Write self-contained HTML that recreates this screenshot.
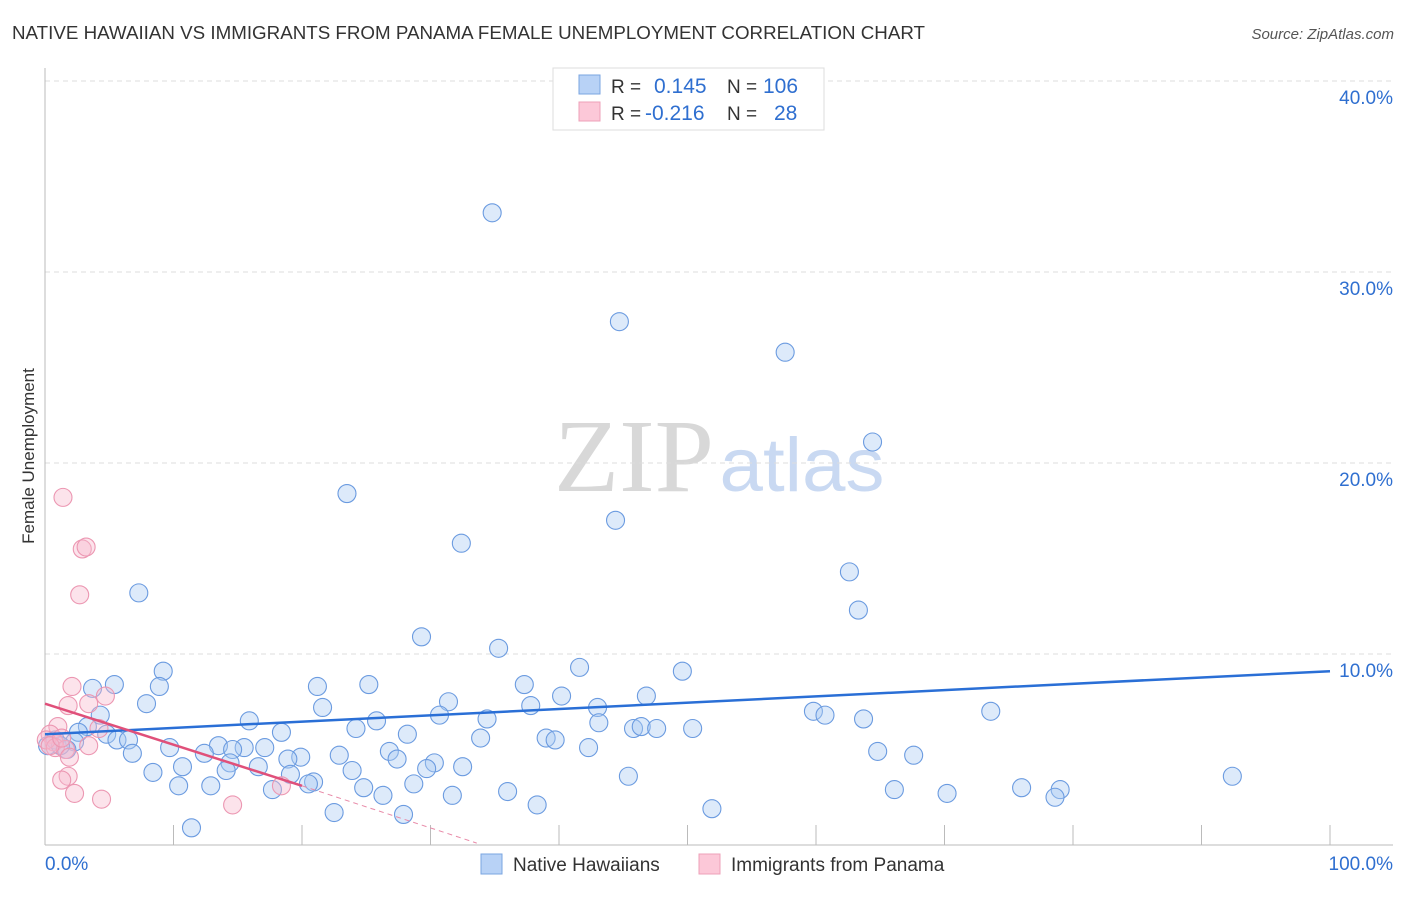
<!DOCTYPE html>
<html><head><meta charset="utf-8"><style>
body{margin:0;background:#fff;font-family:"Liberation Sans",sans-serif}
</style></head><body>
<svg width="1406" height="892" xmlns="http://www.w3.org/2000/svg" style="font-family:'Liberation Sans',sans-serif">
<text x="12" y="39" font-size="18" fill="#333" textLength="913" lengthAdjust="spacingAndGlyphs">NATIVE HAWAIIAN VS IMMIGRANTS FROM PANAMA FEMALE UNEMPLOYMENT CORRELATION CHART</text>
<text x="1394" y="39" font-size="15" fill="#555" text-anchor="end" font-style="italic">Source: ZipAtlas.com</text>
<text x="0" y="0" transform="translate(34,456) rotate(-90)" font-size="17" fill="#333" text-anchor="middle">Female Unemployment</text>
<g><text x="634" y="491" font-size="104" font-family="Liberation Serif" fill="#d8d8d8" text-anchor="middle" textLength="160" lengthAdjust="spacingAndGlyphs">ZIP</text><text x="802" y="491" font-size="76" fill="#c9d9f2" text-anchor="middle" textLength="165" lengthAdjust="spacingAndGlyphs">atlas</text></g>
<g id="grid"></g>
<g id="axes"></g>
<g id="pts"></g>
<g id="trend"></g>
<g>
<rect x="553" y="68" width="271" height="62" fill="#fff" stroke="#ddd"/>
<rect x="579" y="75" width="21" height="19" fill="#b8d2f6" stroke="#7aa5e0"/>
<rect x="579" y="102" width="21" height="19" fill="#fcc8d8" stroke="#eea0b8"/>
<text x="611" y="93" font-size="19" fill="#333">R =</text><text x="654" y="93" font-size="21" fill="#2f6fd0">0.145</text>
<text x="727" y="93" font-size="19" fill="#333">N =</text><text x="763" y="93" font-size="21" fill="#2f6fd0">106</text>
<text x="611" y="120" font-size="19" fill="#333">R =</text><text x="645" y="120" font-size="21" fill="#2f6fd0">-0.216</text>
<text x="727" y="120" font-size="19" fill="#333">N =</text><text x="774" y="120" font-size="21" fill="#2f6fd0">28</text>
</g>
<g>
<rect x="481" y="854" width="21" height="20" fill="#b8d2f6" stroke="#7aa5e0"/>
<text x="513" y="871" font-size="19" fill="#333">Native Hawaiians</text>
<rect x="699" y="854" width="21" height="20" fill="#fcc8d8" stroke="#eea0b8"/>
<text x="731" y="871" font-size="19" fill="#333">Immigrants from Panama</text>
</g>
</svg>
<script>
const yTicks=[10,20,30,40];
const yTickLabels=["10.0%","20.0%","30.0%","40.0%"];
const xTickLabels=["0.0%","100.0%"];
const blueX=[34.8,44.7,57.6,64.4,23.5,44.4,32.4,7.3,62.6,63.3,29.3,35.3,41.6,49.6,9.2,5.4,3.7,8.9,21.2,25.2,37.3,46.8,40.2,31.4,7.9,21.6,37.8,43.0,59.8,60.7,73.6,30.7,34.4,63.7,4.3,15.9,25.8,43.1,3.3,24.2,18.4,28.2,45.8,46.4,47.6,50.4,2.6,4.8,5.6,6.5,33.9,39.0,39.7,2.3,13.5,15.5,17.1,14.6,9.7,42.3,1.7,6.8,12.4,22.9,26.8,19.9,18.9,27.4,64.8,67.6,14.4,30.3,16.6,10.7,32.5,14.1,29.7,8.4,23.9,19.1,45.4,92.4,20.9,20.5,28.7,10.4,12.9,24.8,17.7,66.1,76.0,79.0,36.0,70.2,26.3,31.7,78.6,38.3,51.9,22.5,27.9,11.4,0.2,0.8,1.2];
const blueY=[33.1,27.4,25.8,21.1,18.4,17.0,15.8,13.2,14.3,12.3,10.9,10.3,9.3,9.1,9.1,8.4,8.2,8.3,8.3,8.4,8.4,7.8,7.8,7.5,7.4,7.2,7.3,7.2,7.0,6.8,7.0,6.8,6.6,6.6,6.8,6.5,6.5,6.4,6.2,6.1,5.9,5.8,6.1,6.2,6.1,6.1,5.9,5.8,5.5,5.5,5.6,5.6,5.5,5.4,5.2,5.1,5.1,5.0,5.1,5.1,5.0,4.8,4.8,4.7,4.9,4.6,4.5,4.5,4.9,4.7,4.3,4.3,4.1,4.1,4.1,3.9,4.0,3.8,3.9,3.7,3.6,3.6,3.3,3.2,3.2,3.1,3.1,3.0,2.9,2.9,3.0,2.9,2.8,2.7,2.6,2.6,2.5,2.1,1.9,1.7,1.6,0.9,5.2,5.5,5.2];
const pinkX=[1.4,2.9,3.2,2.7,2.1,4.7,3.4,1.8,1.0,4.2,0.4,0.7,0.1,0.8,1.6,3.4,1.9,1.8,1.3,2.3,4.4,14.6,18.4,0.4,1.3];
const pinkY=[18.2,15.5,15.6,13.1,8.3,7.8,7.4,7.3,6.2,6.1,5.8,5.4,5.5,5.1,5.0,5.2,4.6,3.6,3.4,2.7,2.4,2.1,3.1,5.2,5.6];
const blueTrend=[[0,5.8],[100,9.1]];
const pinkTrend=[[0,7.4],[20,3.1]];
const pinkTrendDash=[[20,3.1],[33.6,0.1]];
const X=v=>45+v*12.85, Y=v=>845-v*19.1;
const NS="http://www.w3.org/2000/svg";
function mk(t,a,p){const e=document.createElementNS(NS,t);for(const k in a)e.setAttribute(k,a[k]);p.appendChild(e);return e;}
const grid=document.getElementById('grid'),axes=document.getElementById('axes');
yTicks.forEach((t,i)=>{
 const l=mk('line',{x1:45,x2:1393,y1:Y(t),y2:Y(t),stroke:'#ddd','stroke-dasharray':'5,4'},grid);
 
 
 const tx=mk('text',{x:1393,y:Y(t)+23,'font-size':19,fill:'#2f6fd0','text-anchor':'end'},axes);
 tx.textContent=yTickLabels[i];
 
 
});
const ax=mk('line',{x1:45,x2:45,y1:68,y2:845,stroke:'#bbb'},axes);


const bx=mk('line',{x1:45,x2:1393,y1:845,y2:845,stroke:'#bbb'},axes);


for(let t=10;t<=100;t+=10){const tk=mk('line',{x1:X(t),x2:X(t),y1:825,y2:845,stroke:'#bbb'},axes);
 
 }
[[0,'start',45],[1,'end',1393]].forEach(([i,a,x])=>{const t=mk('text',{x:x,y:870,'font-size':19,fill:'#2f6fd0','text-anchor':a},axes);t.textContent=xTickLabels[i];
 
 });
const pts=document.getElementById('pts');
blueX.forEach((x,i)=>{const c=mk('circle',{cx:X(x),cy:Y(blueY[i]),r:9,fill:'rgba(170,202,242,0.4)',stroke:'#6b9be0','stroke-width':1.1},pts);
 
 });
pinkX.forEach((x,i)=>{const c=mk('circle',{cx:X(x),cy:Y(pinkY[i]),r:9,fill:'rgba(248,185,205,0.4)',stroke:'#ec97b2','stroke-width':1.1},pts);
 
 });
const tr=document.getElementById('trend');
const l1=mk('line',{x1:X(blueTrend[0][0]),y1:Y(blueTrend[0][1]),x2:X(blueTrend[1][0]),y2:Y(blueTrend[1][1]),stroke:'#2a6fd6','stroke-width':2.5},tr);


const l2=mk('line',{x1:X(pinkTrend[0][0]),y1:Y(pinkTrend[0][1]),x2:X(pinkTrend[1][0]),y2:Y(pinkTrend[1][1]),stroke:'#e0507a','stroke-width':2.5},tr);


const l3=mk('line',{x1:X(pinkTrendDash[0][0]),y1:Y(pinkTrendDash[0][1]),x2:X(pinkTrendDash[1][0]),y2:Y(pinkTrendDash[1][1]),stroke:'#e88aa8','stroke-width':1,'stroke-dasharray':'5,4'},tr);


</script>
</body></html>
